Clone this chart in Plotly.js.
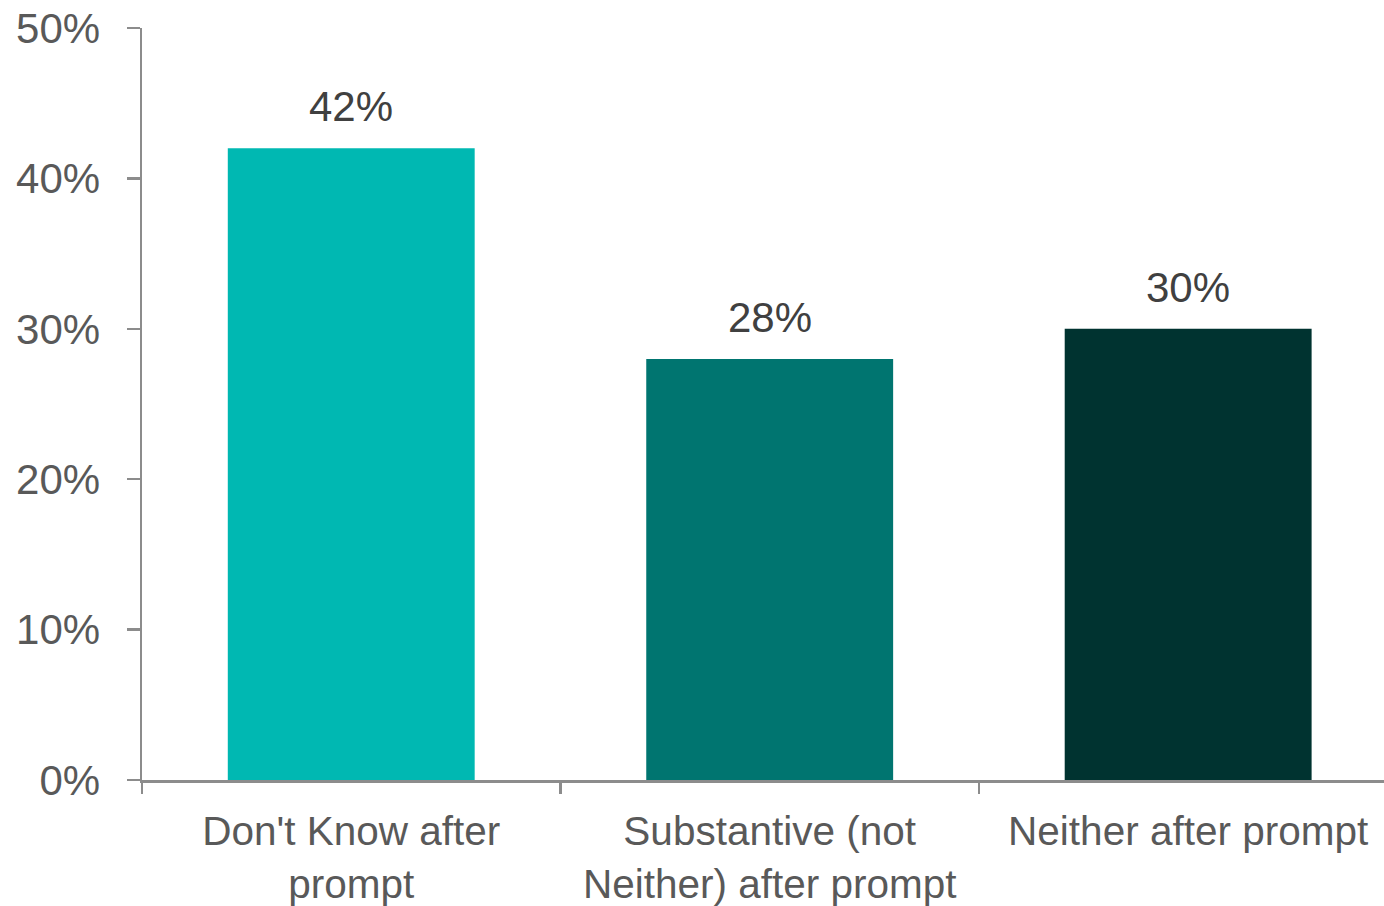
<!DOCTYPE html>
<html>
<head>
<meta charset="utf-8">
<script src="https://cdn.plot.ly/plotly-3.0.1.min.js"></script>
<style>html,body{margin:0;padding:0;background:#fff;}#chart{width:1384px;height:906px;}</style>
</head>
<body>
<div id="chart"></div>
<script>
const categories = ["Don't Know after<br>prompt", "Substantive (not<br>Neither) after prompt", "Neither after prompt"];
const values = [42, 28, 30];
const labels = ["42%", "28%", "30%"];
const colors = ["#00B8B2", "#007570", "#003330"];
const yTicks = [0, 10, 20, 30, 40, 50];
const yTickText = ["0%", "10%", "20%", "30%", "40%", "50%"];

const fontFamily = "Liberation Sans, Arial, sans-serif";
const font = {family: fontFamily, size: 42, color: "#595959"};
const xFont = {family: fontFamily, size: 40.5, color: "#595959"};

const trace = {
  type: "bar",
  x: categories,
  y: values,
  marker: {color: colors},
  hoverinfo: "skip"
};

const annotations = categories.map((c, i) => ({
  x: c, y: values[i], text: labels[i], showarrow: false,
  xref: "x", yref: "y", yanchor: "bottom", yshift: 16,
  font: {family: fontFamily, size: 42, color: "#404040"}
}));

const layout = {
  width: 1384, height: 906,
  margin: {l: 142, r: 0, t: 28, b: 126},
  paper_bgcolor: "#fff", plot_bgcolor: "#fff",
  showlegend: false,
  bargap: 0.41,
  font: font,
  xaxis: {
    type: "category",
    range: [-0.5, 2.468],
    showline: true, linecolor: "#8c8c8c", linewidth: 2.5,
    ticks: "outside", tickson: "boundaries", ticklen: 11, tickwidth: 2.5, tickcolor: "#8c8c8c",
    showgrid: false, zeroline: false,
    ticklabelstandoff: 14,
    tickfont: xFont
  },
  yaxis: {
    range: [0, 50],
    tickvals: yTicks, ticktext: yTickText,
    showline: true, linecolor: "#8c8c8c", linewidth: 2.5,
    ticks: "outside", ticklen: 13, tickwidth: 2.5, tickcolor: "#8c8c8c",
    showgrid: false, zeroline: false,
    ticklabelstandoff: 18,
    tickfont: font
  },
  annotations: annotations
};

Plotly.newPlot("chart", [trace], layout, {staticPlot: true, displayModeBar: false});
</script>
</body>
</html>
